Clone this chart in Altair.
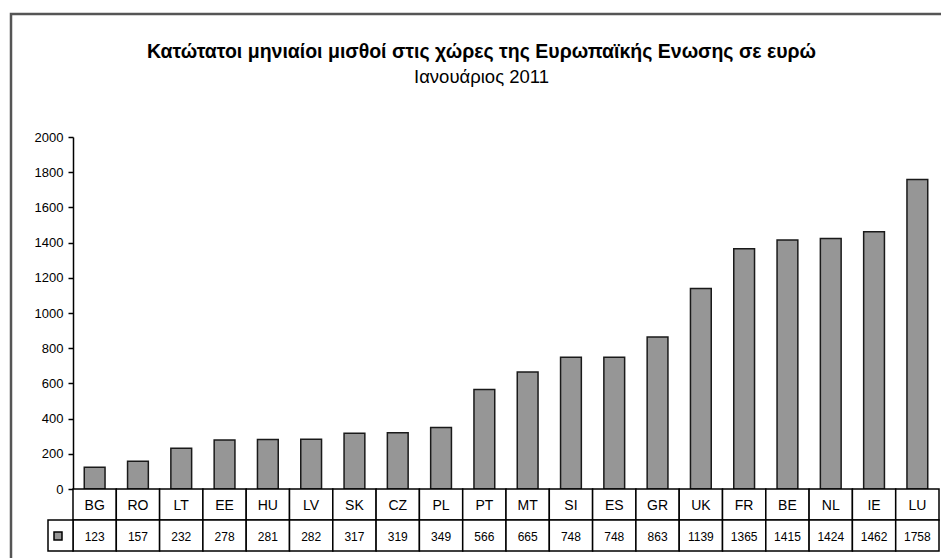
import altair as alt
import pandas as pd

# Minimum monthly wages in EU countries, January 2011 (euro)
countries = ["BG", "RO", "LT", "EE", "HU", "LV", "SK", "CZ", "PL", "PT",
             "MT", "SI", "ES", "GR", "UK", "FR", "BE", "NL", "IE", "LU"]
wages = [123, 157, 232, 278, 281, 282, 317, 319, 349, 566,
         665, 748, 748, 863, 1139, 1365, 1415, 1424, 1462, 1758]
y_ticks = [0, 200, 400, 600, 800, 1000, 1200, 1400, 1600, 1800, 2000]
title_text = "Κατώτατοι μηνιαίοι μισθοί στις χώρες της Ευρωπαϊκής Ενωσης σε ευρώ"
subtitle_text = "Ιανουάριος 2011"

W, H = 866, 352      # plot area
ROW = 31             # height of one data-table row
FONT = "Liberation Sans"
BAR_FILL = "#969696"

df = pd.DataFrame({"country": countries, "wage": wages})
one = pd.DataFrame({"k": [0]})

x_enc = alt.X("country:N", sort=countries, axis=None,
              scale=alt.Scale(paddingInner=0, paddingOuter=0))

base = alt.Chart(df)

bars = base.mark_bar(
    width=alt.RelativeBandSize(0.48), fill=BAR_FILL, stroke="#1a1a1a", strokeWidth=1.5
).encode(
    x=x_enc,
    y=alt.Y("wage:Q", scale=alt.Scale(domain=[0, 2000], nice=False),
            axis=alt.Axis(values=y_ticks, format="d", title=None, grid=False, tickSize=5,
                          tickColor="black", domainColor="black", labelColor="black",
                          labelFont=FONT, labelFontSize=13, labelPadding=5,
                          tickWidth=1.5, domainWidth=1.5)),
)

# data table under the bars: one row of country codes, one row of values
row1 = base.mark_rect(fill="white", stroke="black", strokeWidth=1.5).encode(
    x=x_enc, y=alt.value(H), y2=alt.value(H + ROW))
row2 = base.mark_rect(fill="white", stroke="black", strokeWidth=1.5).encode(
    x=x_enc, y=alt.value(H + ROW), y2=alt.value(H + 2 * ROW))

codes = base.mark_text(font=FONT, fontSize=14, color="black", baseline="middle").encode(
    x=x_enc, y=alt.value(H + ROW / 2 + 1), text="country:N")
values = base.mark_text(font=FONT, fontSize=12, color="black", baseline="middle").encode(
    x=x_enc, y=alt.value(H + ROW * 1.5 + 1), text="wage:Q")

key_cell = alt.Chart(one).mark_rect(fill="white", stroke="black", strokeWidth=1.5).encode(
    x=alt.value(-25), x2=alt.value(0), y=alt.value(H + ROW), y2=alt.value(H + 2 * ROW))
key_swatch = alt.Chart(one).mark_rect(fill=BAR_FILL, stroke="black", strokeWidth=1.5).encode(
    x=alt.value(-19), x2=alt.value(-11), y=alt.value(H + ROW + 12), y2=alt.value(H + ROW + 20))

frame = alt.Chart(one).mark_rect(fill="transparent", stroke="#555555", strokeWidth=2.5).encode(
    x=alt.value(-62), x2=alt.value(W + 30), y=alt.value(-123), y2=alt.value(H + 150))

title = alt.Chart(pd.DataFrame({"t": [title_text]})).mark_text(
    font=FONT, fontSize=19.5, fontWeight="bold", color="black", align="center",
    baseline="alphabetic").encode(x=alt.value(408.5), y=alt.value(-79), text="t:N")
subtitle = alt.Chart(pd.DataFrame({"t": [subtitle_text]})).mark_text(
    font=FONT, fontSize=18.5, color="black", align="center",
    baseline="alphabetic").encode(x=alt.value(408.5), y=alt.value(-54), text="t:N")

chart = alt.layer(
    frame, bars, row1, row2, key_cell, key_swatch, codes, values, title, subtitle
).properties(
    width=W, height=H,
    autosize=alt.AutoSizeParams(type="none"),
    padding={"left": 73, "top": 137, "right": 2, "bottom": 69},
    background="white",
).configure_view(stroke=None)

chart.save("out.html", embed_options={"renderer": "svg", "actions": False})
